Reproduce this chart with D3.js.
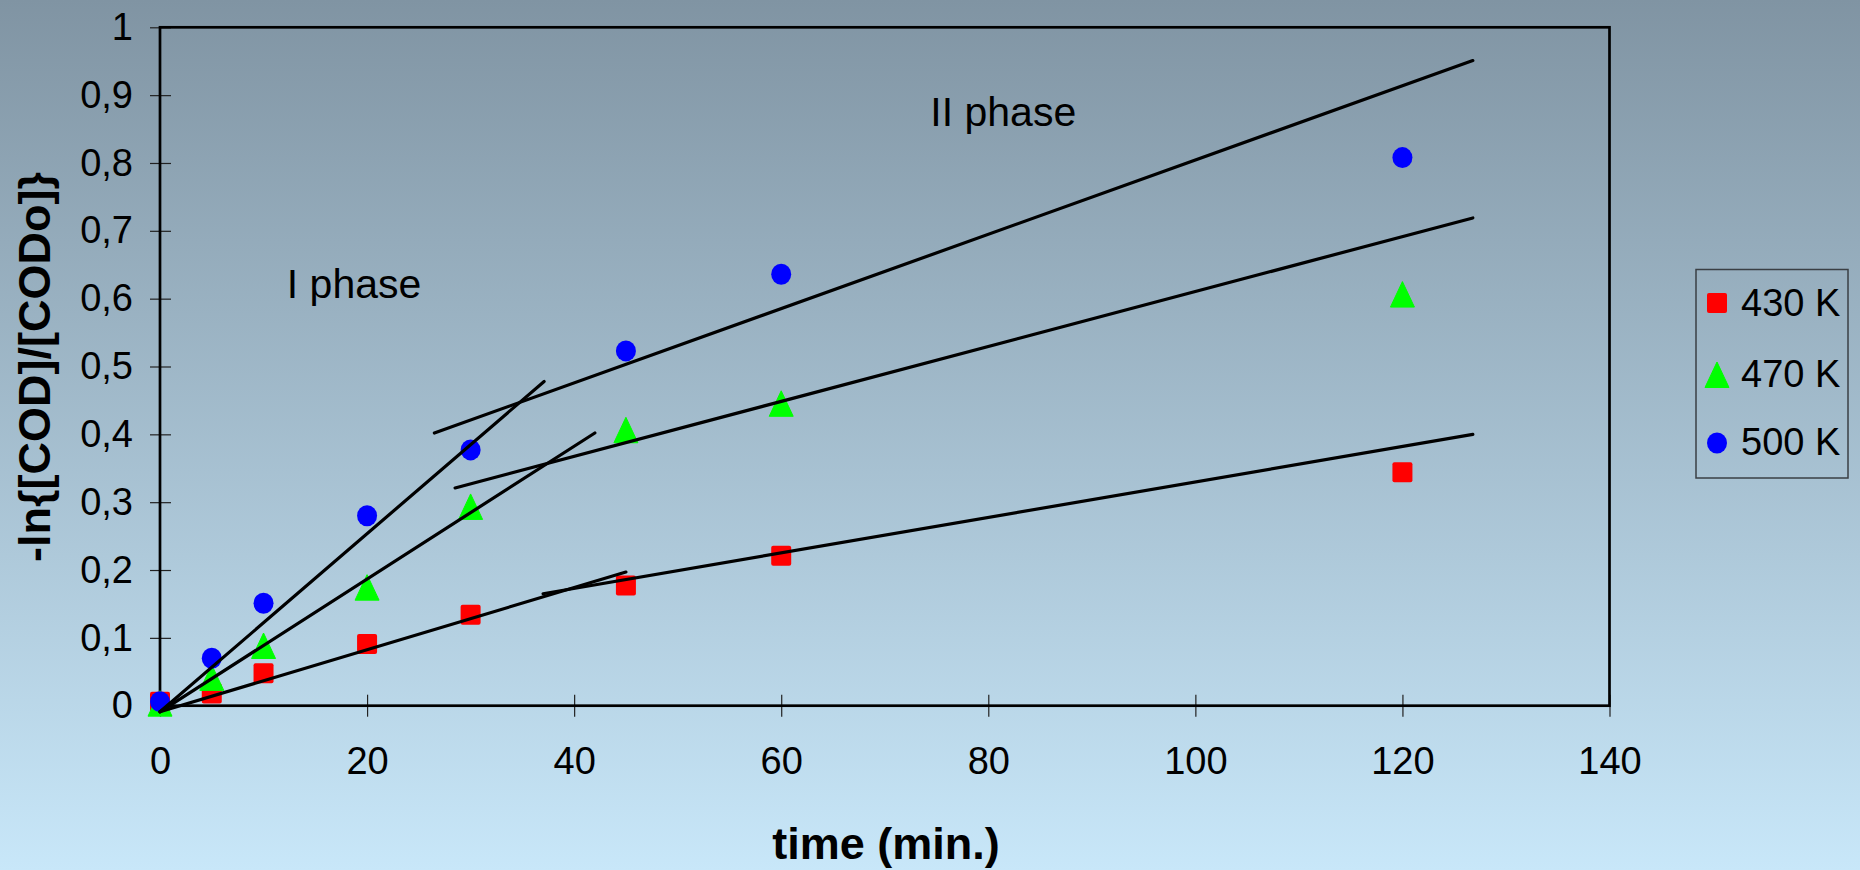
<!DOCTYPE html>
<html>
<head>
<meta charset="utf-8">
<script src="https://cdn.jsdelivr.net/npm/d3@7"></script>
<style>
  html, body { margin: 0; padding: 0; overflow: hidden; }
  svg { display: block; font-family: "Liberation Sans", Arial, Helvetica, sans-serif; }
</style>
</head>
<body>
<svg id="chart" width="1860" height="870"></svg>
<script>
// ---- data ----
const times = [0, 5, 10, 20, 30, 45, 60, 120];
const series430 = [0.006, 0.018, 0.048, 0.091, 0.134, 0.177, 0.221, 0.344];
const series470 = [0.003, 0.041, 0.088, 0.174, 0.293, 0.406, 0.445, 0.606];
const series500 = [0.006, 0.070, 0.151, 0.280, 0.377, 0.523, 0.636, 0.808];
const seriesNames = ["430 K", "470 K", "500 K"];

// fitted lines: [t0, v0, t1, v1]
const phase1Fit430 = [0, -0.009, 45.0, 0.197];
const phase1Fit470 = [0, -0.009, 42.0, 0.402];
const phase1Fit500 = [0, -0.009, 37.1, 0.478];
const phase2Fit430 = [37.0, 0.165, 126.8, 0.400];
const phase2Fit470 = [28.5, 0.321, 126.8, 0.719];
const phase2Fit500 = [26.5, 0.402, 126.8, 0.951];

const xTicks = [0, 20, 40, 60, 80, 100, 120, 140];
const yTicks = [0, 0.1, 0.2, 0.3, 0.4, 0.5, 0.6, 0.7, 0.8, 0.9, 1];
const yTickLabels = ["0", "0,1", "0,2", "0,3", "0,4", "0,5", "0,6", "0,7", "0,8", "0,9", "1"];

const phaseLabels = ["I phase", "II phase"];
const phaseLabelPos = [[12.25, 0.6005], [74.4, 0.8545]];

// ---- layout ----
const W = 1860, H = 870;
const L = 160, R = 1609.5, T = 27.3, B = 705.7;

const svg = d3.select("#chart");
const defs = svg.append("defs");
const grad = defs.append("linearGradient").attr("id", "bg")
  .attr("x1", 0).attr("y1", 0).attr("x2", 0).attr("y2", 1);
grad.append("stop").attr("offset", "0%").attr("stop-color", "#8094a3");
grad.append("stop").attr("offset", "100%").attr("stop-color", "#c8e7f9");
svg.append("rect").attr("width", W).attr("height", H).attr("fill", "url(#bg)");

const x = d3.scaleLinear().domain([0, 140]).range([L, R]);
const y = d3.scaleLinear().domain([0, 1]).range([B, T]);

// axes
const xAxis = svg.append("g").attr("transform", `translate(0,${B})`)
  .call(d3.axisBottom(x).tickValues(xTicks).tickSize(11).tickPadding(30).tickFormat(d3.format("d")));
xAxis.select(".domain").remove();
xAxis.selectAll(".tick line").attr("y1", -11).attr("stroke", "#222").attr("stroke-width", 1.2);
xAxis.selectAll(".tick text").attr("font-size", 38).attr("fill", "#000")
  .attr("font-family", "Liberation Sans, Arial, sans-serif");

const yAxis = svg.append("g").attr("transform", `translate(${L},0)`)
  .call(d3.axisLeft(y).tickValues(yTicks).tickSize(10).tickPadding(17)
    .tickFormat((d, i) => yTickLabels[i]));
yAxis.select(".domain").remove();
yAxis.selectAll(".tick line").attr("x1", 11).attr("stroke", "#222").attr("stroke-width", 1.2);
yAxis.selectAll(".tick text").attr("font-size", 38).attr("fill", "#000")
  .attr("font-family", "Liberation Sans, Arial, sans-serif");

// frame
svg.append("rect").attr("x", L).attr("y", T).attr("width", R - L).attr("height", B - T)
  .attr("fill", "none").attr("stroke", "#000").attr("stroke-width", 2.7);

// markers
const colors = ["#ff0000", "#00ff00", "#0000ff"];
const allSeries = [series430, series470, series500];
const sym = [
  d3.symbol().type(d3.symbolSquare).size(400),
  d3.symbol().type(d3.symbolTriangle).size(260),
  d3.symbol().type(d3.symbolCircle).size(330)
];
function drawMarker(g, k, cx, cy) {
  if (k === 0) {
    g.append("rect").attr("x", cx - 10).attr("y", cy - 10).attr("width", 20).attr("height", 20)
      .attr("rx", 2).attr("fill", colors[0]);
  } else if (k === 1) {
    g.append("path").attr("d", `M${cx},${cy - 13} L${cx + 12},${cy + 12.5} L${cx - 12},${cy + 12.5} Z`)
      .attr("fill", colors[1]).attr("stroke", colors[1]).attr("stroke-width", 1).attr("stroke-linejoin", "round");
  } else {
    g.append("ellipse").attr("cx", cx).attr("cy", cy).attr("rx", 10).attr("ry", 10.5).attr("fill", colors[2]);
  }
}
const markers = svg.append("g");
allSeries.forEach((s, k) => {
  s.forEach((v, i) => drawMarker(markers, k, x(times[i]), y(v)));
});

// fit lines
const fits = [phase1Fit430, phase1Fit470, phase1Fit500, phase2Fit430, phase2Fit470, phase2Fit500];
svg.append("g").selectAll("line").data(fits).join("line")
  .attr("x1", d => x(d[0])).attr("y1", d => y(d[1]))
  .attr("x2", d => x(d[2])).attr("y2", d => y(d[3]))
  .attr("stroke", "#000").attr("stroke-width", 3.2).attr("stroke-linecap", "round");

// phase labels
svg.append("g").selectAll("text").data(phaseLabels).join("text")
  .attr("x", (d, i) => x(phaseLabelPos[i][0]))
  .attr("y", (d, i) => y(phaseLabelPos[i][1]))
  .attr("font-size", 41).attr("fill", "#000")
  .text(d => d);

// axis titles
svg.append("text").attr("x", 886).attr("y", 859).attr("text-anchor", "middle")
  .attr("font-size", 45).attr("font-weight", "bold").attr("fill", "#000").text("time (min.)");
svg.append("text").attr("transform", "translate(50,367) rotate(-90)").attr("text-anchor", "middle")
  .attr("font-size", 45).attr("font-weight", "bold").attr("fill", "#000").text("-ln{[COD]/[CODo]}");

// legend
const leg = svg.append("g");
leg.append("rect").attr("x", 1696).attr("y", 269.5).attr("width", 152).attr("height", 208.5)
  .attr("fill", "none").attr("stroke", "#3a3f44").attr("stroke-width", 1.5);
const legY = [303, 375, 443];
const legBase = [316, 387, 455];
seriesNames.forEach((n, k) => {
  drawMarker(leg, k, 1717, legY[k]);
  leg.append("text").attr("x", 1741).attr("y", legBase[k])
    .attr("font-size", 38).attr("fill", "#000").text(n);
});
</script>
</body>
</html>
